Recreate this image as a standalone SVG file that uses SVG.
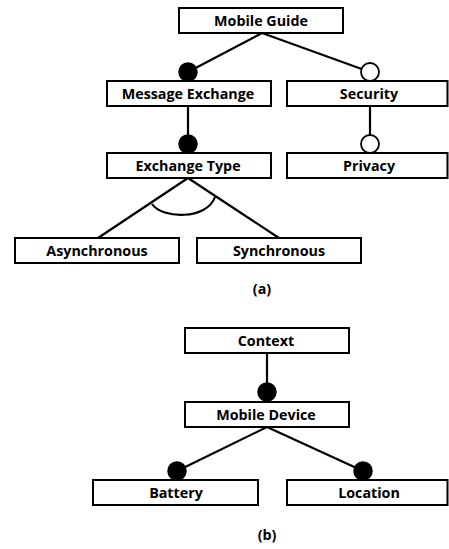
<svg xmlns="http://www.w3.org/2000/svg" width="449" height="549" viewBox="0 0 449 549">
<style>
.box{fill:#fff;stroke:#000;stroke-width:2}
.t{font-family:"Open Sans","Liberation Sans",sans-serif;font-weight:700;font-size:14.3px;fill:#000;text-anchor:middle}
.ln{stroke:#000;stroke-width:2.2;fill:none}
.mand{fill:#000;stroke:#000;stroke-width:1.5}
.opt{fill:#fff;stroke:#000;stroke-width:1.8}
</style>
<rect width="449" height="549" fill="#fff"/>
<g id="connectors">
<line class="ln" x1="262" y1="33" x2="188" y2="72"/>
<line class="ln" x1="262" y1="33" x2="370" y2="72"/>
<line class="ln" x1="188" y1="106" x2="188" y2="144"/>
<line class="ln" x1="370" y1="106" x2="370" y2="144"/>
<line class="ln" x1="188" y1="178" x2="98" y2="238"/>
<line class="ln" x1="188" y1="178" x2="279" y2="238"/>
<path class="ln" d="M152,204 C162,219 207,220 215,197"/>
<line class="ln" x1="267" y1="353" x2="267" y2="392"/>
<line class="ln" x1="267" y1="427" x2="177" y2="471"/>
<line class="ln" x1="267" y1="427" x2="363" y2="471"/>
<circle class="mand" cx="188" cy="72" r="9"/>
<circle class="opt" cx="370" cy="72" r="9"/>
<circle class="mand" cx="188" cy="144" r="9"/>
<circle class="opt" cx="370" cy="144" r="9"/>
<circle class="mand" cx="267" cy="392" r="9"/>
<circle class="mand" cx="177" cy="471" r="9"/>
<circle class="mand" cx="363" cy="471" r="9"/>
</g>
<g id="mobile-guide"><rect class="box" x="179" y="8" width="164" height="25"/><text class="t" x="261" y="25.5">Mobile Guide</text></g>
<g id="message-exchange"><rect class="box" x="107" y="81" width="164" height="25"/><text class="t" x="188" y="98.5">Message Exchange</text></g>
<g id="security"><rect class="box" x="287" y="81" width="160.5" height="25"/><text class="t" x="369" y="98.5">Security</text></g>
<g id="exchange-type"><rect class="box" x="107" y="153" width="164" height="25"/><text class="t" x="188" y="170.5">Exchange Type</text></g>
<g id="privacy"><rect class="box" x="287" y="153" width="160.5" height="25"/><text class="t" x="369" y="170.5">Privacy</text></g>
<g id="asynchronous"><rect class="box" x="15" y="238" width="164" height="25"/><text class="t" x="97" y="255.5">Asynchronous</text></g>
<g id="synchronous"><rect class="box" x="197" y="238" width="164" height="25"/><text class="t" x="279" y="255.5">Synchronous</text></g>
<text class="t" x="262" y="294">(a)</text>
<g id="context"><rect class="box" x="185" y="328" width="164" height="25"/><text class="t" x="266" y="345.5">Context</text></g>
<g id="mobile-device"><rect class="box" x="185" y="402" width="164" height="25"/><text class="t" x="266" y="419.5">Mobile Device</text></g>
<g id="battery"><rect class="box" x="93" y="480" width="165" height="25"/><text class="t" x="176" y="497.5">Battery</text></g>
<g id="location"><rect class="box" x="287" y="480" width="160.5" height="25"/><text class="t" x="369" y="497.5">Location</text></g>
<text class="t" x="267" y="540">(b)</text>
</svg>
